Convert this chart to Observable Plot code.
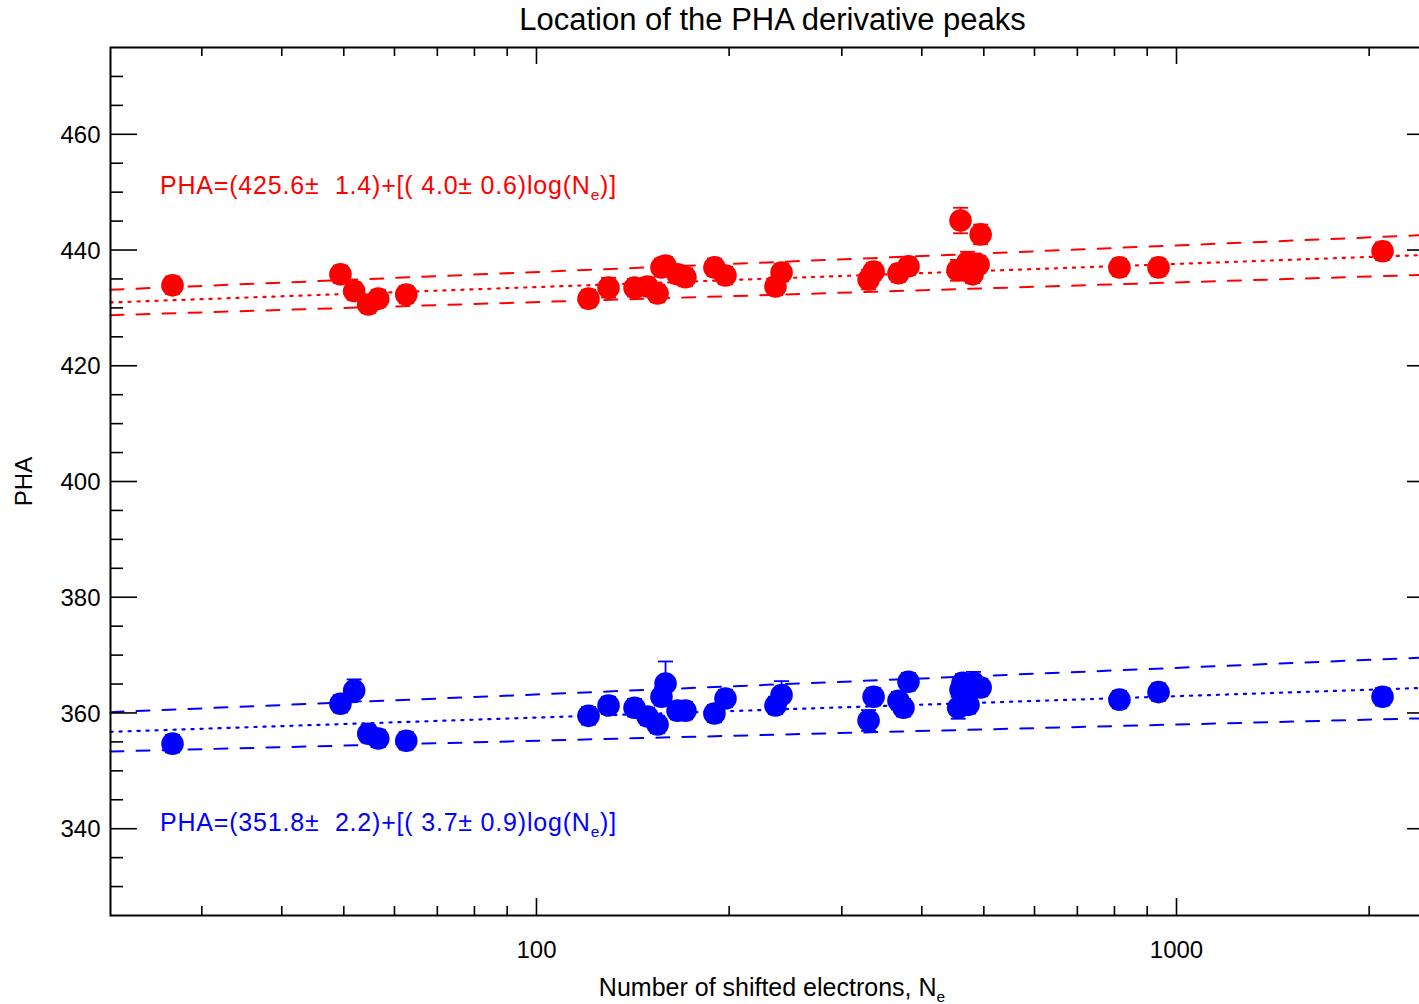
<!DOCTYPE html>
<html>
<head>
<meta charset="utf-8">
<script src="https://cdn.jsdelivr.net/npm/d3@7"></script>
<script src="https://cdn.jsdelivr.net/npm/@observablehq/plot@0.6"></script>
<style>
  html, body { margin: 0; padding: 0; background: white; overflow: hidden; }
  #chart svg { display: block; }
</style>
</head>
<body>
<div id="chart"></div>
<script>
// ---- data ----
const title = "Location of the PHA derivative peaks";
const xLabel = "Number of shifted electrons, N";
const yLabel = "PHA";
const xDomain = [21.6, 2530];
const yDomain = [325, 475];
const xMajorTicks = [100, 1000];
const xMinorTicks = [30, 40, 50, 60, 70, 80, 90, 200, 300, 400, 500, 600, 700, 800, 900, 2000];
const yMajorTicks = [340, 360, 380, 400, 420, 440, 460];
const yMinorTicks = [330, 335, 345, 350, 355, 365, 370, 375, 385, 390, 395, 405, 410, 415, 425, 430, 435, 445, 450, 455, 465, 470];

const redN   = [27.0, 49.4, 51.9, 54.6, 56.6, 62.6, 120.6, 129.6, 142.3, 149.1, 154.6, 156.8, 159.1, 166.1, 170.9, 189.7, 197.4, 236.3, 241.5, 330.3, 336.3, 367.8, 381.3, 454.8, 459.8, 471.6, 480.2, 490.7, 494.3, 814.5, 937.5, 2098.7];
const redPHA = [433.9, 435.8, 432.9, 430.6, 431.6, 432.3, 431.6, 433.5, 433.5, 433.7, 432.5, 437.0, 437.3, 435.8, 435.3, 437.0, 435.6, 433.7, 436.1, 434.9, 436.3, 436.0, 437.2, 436.5, 445.1, 437.9, 435.8, 437.5, 442.7, 437.0, 437.0, 439.8];
const redErr = [1.5, 1.5, 1.5, 1.5, 1.5, 1.5, 1.5, 1.7, 1.5, 1.5, 1.5, 1.5, 1.5, 1.5, 1.5, 1.5, 1.5, 1.5, 1.5, 1.7, 1.5, 1.5, 1.5, 1.8, 2.2, 1.8, 1.5, 1.5, 1.7, 1.5, 1.5, 1.5];

const blueN   = [27.0, 49.4, 51.9, 54.6, 56.6, 62.6, 120.6, 129.6, 142.3, 149.1, 154.6, 156.8, 159.1, 166.1, 170.9, 189.7, 197.4, 236.3, 241.5, 330.3, 336.3, 367.8, 374.5, 381.3, 456.0, 459.8, 463.1, 481.8, 494.3, 473.2, 814.5, 937.5, 2098.7];
const bluePHA = [354.7, 361.6, 363.9, 356.4, 355.6, 355.2, 359.5, 361.3, 360.9, 359.4, 358.0, 362.8, 365.1, 360.4, 360.4, 359.9, 362.5, 361.3, 363.1, 358.7, 362.8, 362.1, 360.9, 365.4, 360.9, 364.0, 365.2, 365.2, 364.4, 361.4, 362.3, 363.6, 362.8];
const blueErr = [1.5, 1.5, 1.9, 1.5, 1.5, 1.5, 1.5, 1.5, 1.5, 1.5, 1.5, 1.5, 3.8, 1.5, 1.5, 1.5, 1.5, 1.5, 2.4, 1.8, 1.5, 1.5, 1.5, 1.5, 1.9, 1.5, 1.5, 1.9, 1.5, 1.5, 1.5, 1.5, 1.5];

// fit lines (endpoints at the x-domain limits), from the printed fit parameters
const fitX = [21.6, 2530];
const redFit   = [430.94, 439.21];
const redUpper = [433.14, 442.65];
const redLower = [428.74, 435.77];
const blueFit   = [356.74, 364.39];
const blueUpper = [360.14, 369.65];
const blueLower = [353.34, 359.13];

const redEq  = ["PHA=(425.6\u00b1  1.4)+[( 4.0\u00b1 0.6)log(N", "e", ")]"];
const blueEq = ["PHA=(351.8\u00b1  2.2)+[( 3.7\u00b1 0.9)log(N", "e", ")]"];

// ---- build tables ----
const RED = "#ff0000", BLUE = "#0000ff";
const red = redN.map((n, i) => ({N: n, v: redPHA[i], e: redErr[i]}));
const blue = blueN.map((n, i) => ({N: n, v: bluePHA[i], e: blueErr[i]}));
const line = ys => fitX.map((x, i) => ({x, y: ys[i]}));

const W = 1434, H = 1004, mL = 110, mR = 0, mT = 47, mB = 89;
const frameW = W - mL - mR, frameH = H - mT - mB;
const FONT = "'Liberation Sans', Arial, Helvetica, sans-serif";

const cap = {draw(ctx) { ctx.moveTo(-7.5, 0); ctx.lineTo(7.5, 0); }};

function series(data, color, fit, up, lo) {
  return [
    Plot.line(line(up), {x: "x", y: "y", stroke: color, strokeWidth: 2, strokeDasharray: "13 13"}),
    Plot.line(line(lo), {x: "x", y: "y", stroke: color, strokeWidth: 2, strokeDasharray: "13 13"}),
    Plot.line(line(fit), {x: "x", y: "y", stroke: color, strokeWidth: 2.2, strokeDasharray: "2.2 6.8"}),
    Plot.ruleX(data, {x: "N", y1: d => d.v - d.e, y2: d => d.v + d.e, stroke: color, strokeWidth: 1.8}),
    Plot.dot(data, {x: "N", y: d => d.v + d.e, symbol: cap, r: 7, stroke: color, strokeWidth: 1.8, fill: "none"}),
    Plot.dot(data, {x: "N", y: d => d.v - d.e, symbol: cap, r: 7, stroke: color, strokeWidth: 1.8, fill: "none"}),
    Plot.dot(data, {x: "N", y: "v", r: 11.3, fill: color, stroke: "none"})
  ];
}

const plot = Plot.plot({
  width: W, height: H,
  marginLeft: mL, marginRight: mR, marginTop: mT, marginBottom: mB,
  style: {fontFamily: FONT, background: "white", maxWidth: "none", overflow: "hidden", color: "black"},
  x: {type: "log", domain: xDomain, axis: null},
  y: {domain: yDomain, axis: null},
  marks: [
    ...series(red, RED, redFit, redUpper, redLower),
    ...series(blue, BLUE, blueFit, blueUpper, blueLower),
    // x ticks (bottom and top, pointing inward)
    Plot.tickX(xMajorTicks, {x: d => d, insetTop: frameH - 17, stroke: "black", strokeWidth: 1.6}),
    Plot.tickX(xMinorTicks, {x: d => d, insetTop: frameH - 9, stroke: "black", strokeWidth: 1.6}),
    Plot.tickX(xMajorTicks, {x: d => d, insetBottom: frameH - 17, stroke: "black", strokeWidth: 1.6}),
    Plot.tickX(xMinorTicks, {x: d => d, insetBottom: frameH - 9, stroke: "black", strokeWidth: 1.6}),
    // y ticks (left and right, pointing inward)
    Plot.tickY(yMajorTicks, {y: d => d, insetRight: frameW - 27, stroke: "black", strokeWidth: 1.6}),
    Plot.tickY(yMinorTicks, {y: d => d, insetRight: frameW - 13, stroke: "black", strokeWidth: 1.6}),
    Plot.tickY(yMajorTicks, {y: d => d, insetLeft: frameW - 27, stroke: "black", strokeWidth: 1.6}),
    Plot.tickY(yMinorTicks, {y: d => d, insetLeft: frameW - 13, stroke: "black", strokeWidth: 1.6}),
    Plot.frame({stroke: "black", strokeWidth: 2}),
    // tick labels
    Plot.text(yMajorTicks, {y: d => d, text: d => String(d), frameAnchor: "left", textAnchor: "end", lineAnchor: "middle", dx: -10, dy: 1, fontSize: 24, fill: "black"}),
    Plot.text(xMajorTicks, {x: d => d, text: d => String(d), frameAnchor: "bottom", textAnchor: "middle", lineAnchor: "middle", dy: 35, fontSize: 24, fill: "black"}),
    // title and y label
    Plot.text([title], {text: d => d, frameAnchor: "top", textAnchor: "middle", lineAnchor: "middle", dy: -27, fontSize: 31, fill: "black"}),
    Plot.text([yLabel], {text: d => d, frameAnchor: "left", textAnchor: "middle", lineAnchor: "middle", rotate: -90, dx: -86, fontSize: 24, fill: "black"})
  ]
});

document.getElementById("chart").appendChild(plot);

// texts with subscripts
const svg = d3.select(plot);
function subText(parts, x, y, color, size, spacing) {
  const t = svg.append("text")
    .attr("x", x).attr("y", y)
    .attr("fill", color)
    .attr("font-size", size)
    .attr("font-family", FONT)
    .attr("text-anchor", "start")
    .style("letter-spacing", spacing + "px")
    .style("white-space", "pre");
  t.append("tspan").text(parts[0]);
  t.append("tspan").attr("dy", 6).attr("font-size", size * 0.62).text(parts[1]);
  if (parts[2]) t.append("tspan").attr("dy", -6).text(parts[2]);
  return t;
}
subText(redEq, mL + 50, mT + 147, RED, 25, 0.8);
subText(blueEq, mL + 50, mT + 784, BLUE, 25, 0.8);
const xl = subText([xLabel, "e"], 0, H - 8, "black", 25, 0);
const bb = xl.node().getBBox();
xl.attr("x", mL + frameW / 2 - bb.width / 2);
</script>
</body>
</html>
